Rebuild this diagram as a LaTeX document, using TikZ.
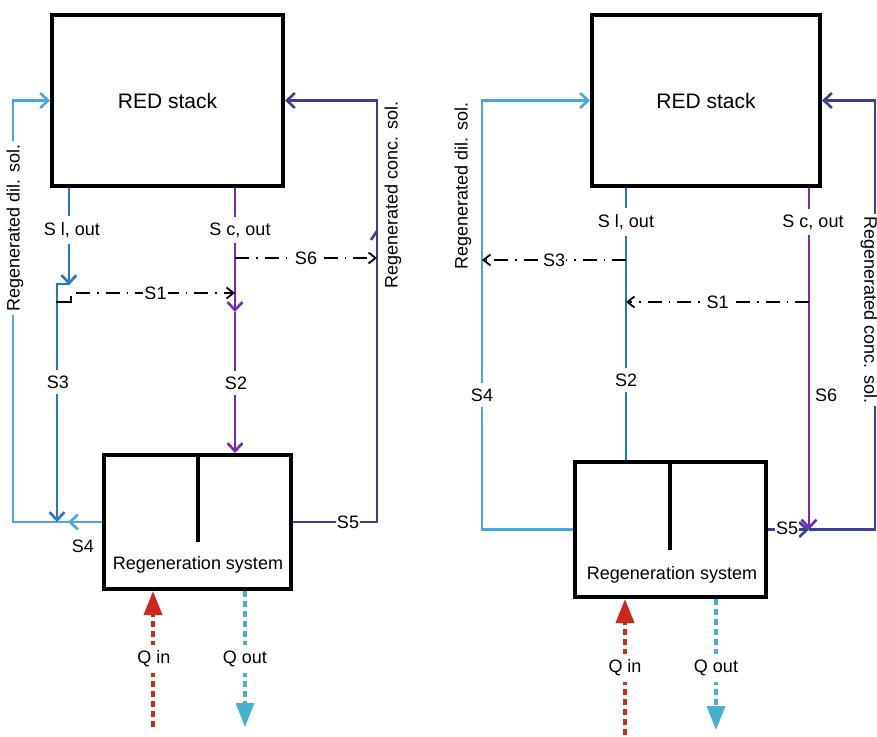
\documentclass[tikz,border=0pt]{standalone}
\usepackage{fontspec}
\setmainfont{Liberation Sans}
\usetikzlibrary{arrows.meta,calc,positioning}

\definecolor{dilC}{RGB}{72,168,222}
\definecolor{lowC}{RGB}{40,118,196}
\definecolor{purC}{RGB}{120,40,190}
\definecolor{navC}{RGB}{62,62,150}
\definecolor{redC}{RGB}{204,40,30}
\definecolor{cyaC}{RGB}{70,176,208}
\newcommand\lblfont{\fontsize{18}{21}\selectfont}
\newcommand\stackfont{\fontsize{21}{24}\selectfont}

\begin{document}
\begin{tikzpicture}[x=1pt, y=-1pt,
  box/.style={draw, line width=4pt, inner sep=0pt},
  wall/.style={line width=4pt},
  flow/.style={line width=2.6pt},
  bar/.style={-{Straight Barb[length=8pt,width=15pt]}},
  ctrl/.style={line width=1.8pt, dash pattern=on 14pt off 7pt on 1.5pt off 7pt,
    -{Straight Barb[length=7pt,width=11pt]}},
  heat/.style={line width=3.8pt, dash pattern=on 6pt off 4pt,
    -{Triangle[length=24pt,width=18pt]}},
  lbl/.style={fill=white, inner xsep=1pt, inner ysep=6pt, font=\lblfont},
  txt/.style={inner sep=1pt, font=\lblfont}]
  \useasboundingbox (0,0) rectangle (877,736);

  % Left side: stack and regeneration unit
  \node[box, minimum width=231pt, minimum height=171pt, font=\stackfont] (stackL) at (167.5,100.5) {RED stack};
  \node[box, minimum width=187pt, minimum height=134pt] (regenL) at (197.5,522) {};
  \node[txt] (regenLtxt) at (198,565) {Regeneration system};
  \draw[wall] (regenL.north -| regenLtxt.center) -- ++(0,89);

  % Left side: dilute loop
  \coordinate (dilLb) at (13,522);
  \coordinate (dilLt) at (13,100.5);
  \draw[flow, dilC, bar] (regenL.west) -- (dilLb) -- (dilLt) -- (stackL.west);
  \draw[flow, dilC, bar] (regenL.west) -- ++(-34,0);
  \node[lbl, rotate=90, inner xsep=4pt, inner ysep=1pt] at (15,228) {Regenerated dil. sol.};
  \node[txt] at (83,546) {S4};

  % Left side: S l, out
  \coordinate (slL) at (69,285);
  \coordinate (slLb) at (57,284);
  \draw[flow, lowC, bar] (stackL.south -| slL) -- (slL);
  \draw[flow, lowC, bar] (slL |- slLb) -- (slLb) -- (slLb |- dilLb);
  \node[lbl] at (72,230) {S l, out};
  \node[lbl] at (58,382) {S3};
  \draw[line width=1.8pt] (56,302) -- (71,302) -- (71,296);

  % Left side: S c, out
  \coordinate (scL) at (235,312);
  \draw[flow, purC, bar] (stackL.south -| scL) -- (scL);
  \draw[flow, purC, bar] (scL) -- (regenL.north -| scL);
  \node[lbl] at (240,230) {S c, out};
  \node[lbl] at (236,383) {S2};

  % Left side: concentrate loop
  \coordinate (navLb) at (377,522);
  \coordinate (navLt) at (377,100.5);
  \draw[flow, navC, bar] (regenL.east) -- (navLb) -- (navLt) -- (stackL.east);
  \draw[flow, navC] (371,240) -- (377,231);
  \node[lbl] at (348,522) {S5};
  \node[txt, rotate=90] at (393,195) {Regenerated conc. sol.};

  % Left side: bypass streams
  \coordinate (s1L) at (76,293);
  \coordinate (s6L) at (235,258);
  \draw[ctrl] (s1L) -- (s1L -| scL) node[lbl, midway] {S1};
  \draw[ctrl] (s6L) -- (s6L -| navLt) node[lbl, midway] {S6};

  % Left side: heat
  \coordinate (qinL) at (153,727);
  \coordinate (qoutL) at (245,727);
  \draw[heat, redC] (qinL) -- (qinL |- regenL.south);
  \draw[heat, cyaC, line width=3.2pt] (qoutL |- regenL.south) -- (qoutL);
  \node[lbl] at (154,659) {Q in};
  \node[lbl] at (245,659) {Q out};

  % Right side: stack and regeneration unit
  \node[box, minimum width=228pt, minimum height=171pt, font=\stackfont] (stackR) at (706,100.5) {RED stack};
  \node[box, minimum width=191pt, minimum height=135pt] (regenR) at (670.5,529.5) {};
  \node[txt] (regenRtxt) at (672,575) {Regeneration system};
  \draw[wall] (regenR.north -| 670,0) -- ++(0,90);

  % Right side: dilute loop
  \coordinate (dilRb) at (482,529.5);
  \coordinate (dilRt) at (482,100.5);
  \draw[flow, dilC, bar] (regenR.west) -- (dilRb) -- (dilRt) -- (stackR.west);
  \node[lbl] at (482,395) {S4};
  \node[txt, rotate=90] at (463,186) {Regenerated dil. sol.};

  % Right side: S l, out
  \coordinate (slR) at (626,260);
  \draw[flow, lowC] (stackR.south -| slR) -- (regenR.north -| slR);
  \node[lbl] at (626,222) {S l, out};
  \node[lbl] at (626,380) {S2};

  % Right side: S c, out
  \coordinate (scR) at (809,302);
  \draw[flow, purC, bar] (stackR.south -| scR) -- (scR |- regenR.east);
  \node[lbl] at (813,222) {S c, out};
  \node[txt] at (826,395) {S6};

  % Right side: concentrate loop
  \coordinate (navRb) at (875,529.5);
  \coordinate (navRt) at (875,100.5);
  \draw[flow, navC, bar] (regenR.east) -- (scR |- regenR.east);
  \draw[flow, navC, bar] (scR |- regenR.east) -- (navRb) -- (navRt) -- (stackR.east);
  \node[lbl] at (787,528) {S5};
  \node[lbl, rotate=-90, inner xsep=3pt, inner ysep=1pt] at (869,310) {Regenerated conc. sol.};

  % Right side: bypass streams
  \draw[ctrl] (slR) -- (slR -| dilRb) node[lbl, midway] {S3};
  \draw[ctrl] (scR) -- (scR -| slR) node[lbl, midway] {S1};

  % Right side: heat
  \coordinate (qinR) at (625,735);
  \coordinate (qoutR) at (716,730);
  \draw[heat, redC] (qinR) -- (qinR |- regenR.south);
  \draw[heat, cyaC, line width=3.2pt] (qoutR |- regenR.south) -- (qoutR);
  \node[lbl] at (625,668) {Q in};
  \node[lbl] at (716,668) {Q out};
\end{tikzpicture}
\end{document}
